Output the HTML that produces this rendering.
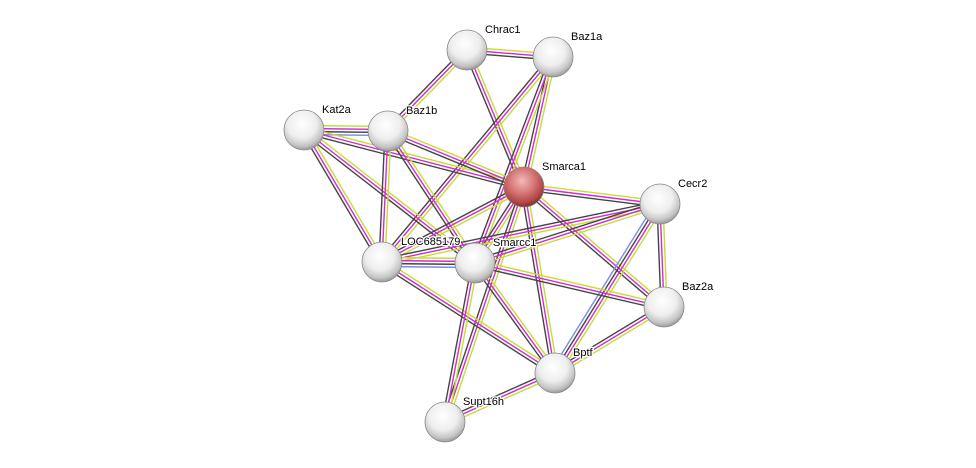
<!DOCTYPE html>
<html><head><meta charset="utf-8"><style>
body{margin:0;background:#fff;width:976px;height:468px;overflow:hidden}
svg{display:block}
text{font-family:"Liberation Sans",sans-serif;font-size:11px;fill:#000;paint-order:stroke;stroke:#fff;stroke-width:2.5px}
</style></head><body>
<svg id="s" width="976" height="468" xmlns="http://www.w3.org/2000/svg">
<defs>
<radialGradient id="gw" cx="45%" cy="35%" r="65%">
<stop offset="0" stop-color="#ffffff"/><stop offset="0.55" stop-color="#eeeeee"/><stop offset="0.85" stop-color="#c4c4c4"/><stop offset="1" stop-color="#9a9a9a"/></radialGradient>
<radialGradient id="gr" cx="45%" cy="35%" r="65%">
<stop offset="0" stop-color="#f2b8b8"/><stop offset="0.5" stop-color="#d47474"/><stop offset="0.85" stop-color="#b04444"/><stop offset="1" stop-color="#882828"/></radialGradient>
</defs>
<g id="e"></g><g id="n"></g>
</svg>
<script>
var N={Chrac1:[467,50],Baz1a:[553,57],Kat2a:[304,130],Baz1b:[388,131],Smarca1:[524,187],Cecr2:[660,204],LOC685179:[382,262],Smarcc1:[475,263],Baz2a:[664,307],Bptf:[555,373],Supt16h:[445,422]};
var E=[["Chrac1","Baz1a"],["Chrac1","Baz1b"],["Chrac1","Smarca1"],["Baz1a","Smarca1"],["Baz1a","LOC685179"],["Baz1a","Smarcc1"],["Kat2a","Baz1b",1],["Kat2a","Smarca1"],["Kat2a","LOC685179"],["Kat2a","Smarcc1"],["Baz1b","Smarca1"],["Baz1b","LOC685179"],["Baz1b","Smarcc1"],["Smarca1","Cecr2"],["Smarca1","LOC685179"],["Smarca1","Smarcc1"],["Smarca1","Baz2a"],["Smarca1","Bptf"],["Smarca1","Supt16h"],["Cecr2","LOC685179"],["Cecr2","Smarcc1"],["Cecr2","Baz2a"],["Cecr2","Bptf",1],["LOC685179","Smarcc1",1],["LOC685179","Bptf"],["Smarcc1","Baz2a"],["Smarcc1","Bptf"],["Smarcc1","Supt16h"],["Baz2a","Bptf"],["Bptf","Supt16h"]];
var eg=document.getElementById("e"),ng=document.getElementById("n"),h="";
E.forEach(function(x){var a=N[x[0]],b=N[x[1]],dx=b[0]-a[0],dy=b[1]-a[1],l=Math.hypot(dx,dy),px=-dy/l,py=dx/l;
var c=x[2]?[["#c8dc30",-4.5],["#d42ad4",-1.5],["#444",1.5],["#7a8ce6",4.5]]:[["#c8dc30",-3],["#d42ad4",0],["#444",3]];
c.forEach(function(k){var o=k[1];h+='<line x1="'+(a[0]+px*o)+'" y1="'+(a[1]+py*o)+'" x2="'+(b[0]+px*o)+'" y2="'+(b[1]+py*o)+'" stroke="'+k[0]+'" stroke-width="1.4"/>';});});
eg.innerHTML=h;h="";
for(var k in N){var p=N[k];h+='<circle cx="'+p[0]+'" cy="'+p[1]+'" r="20" fill="url(#'+(k=="Smarca1"?"gr":"gw")+')" stroke="#888" stroke-width="0.8"/>';
h+='<text x="'+(p[0]+(k=="LOC685179"?19:18))+'" y="'+(p[1]-17)+'">'+k+'</text>';}
ng.innerHTML=h;
</script>
</body></html>
